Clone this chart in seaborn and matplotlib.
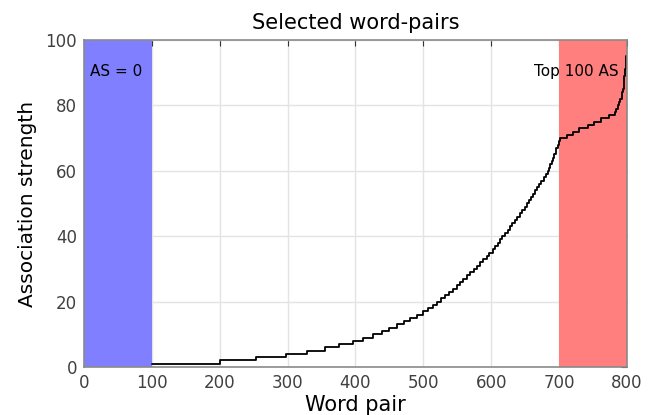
import numpy as np
import pandas as pd
import seaborn as sns
import matplotlib
matplotlib.use("Agg")
import matplotlib.pyplot as plt

# word-pair index where each association-strength level begins
step_start = [100, 200, 254, 298, 328, 355, 376, 396, 411, 426,
              439, 450, 461, 471, 481, 490, 499, 507, 514, 520,
              526, 532, 538, 543, 549, 554, 559, 564, 569, 574,
              579, 584, 588, 593, 597, 602, 606, 610, 613, 616,
              620, 624, 628, 631, 635, 638, 642, 645, 649, 652,
              655, 659, 662, 665, 668, 671, 674, 677, 680, 683,
              685, 687, 689, 691, 693, 695, 696, 698, 700,
              702, 712, 720, 730, 742, 752, 762, 774, 782, 784,
              786, 788, 790, 792, 793, 794, 795, 796, 797, 798, 799, 800]
step_level = [1, 2, 3, 4, 5, 6, 7, 8, 9, 10,
              11, 12, 13, 14, 15, 16, 17, 18, 19, 20,
              21, 22, 23, 24, 25, 26, 27, 28, 29, 30,
              31, 32, 33, 34, 35, 36, 37, 38, 39, 40,
              41, 42, 43, 44, 45, 46, 47, 48, 49, 50,
              51, 52, 53, 54, 55, 56, 57, 58, 59, 60,
              61, 62, 63, 64, 65, 66, 67, 68, 69,
              70, 71, 72, 73, 74, 75, 76, 77, 78, 79,
              80, 81, 82, 83, 84, 85, 87, 89, 91, 93, 95, 95]

zero_region = (0, 100)
top_region = (700, 800)

df = pd.DataFrame({"pair": step_start, "strength": step_level})

sns.set_style("white")
plt.rcParams["font.family"] = ["DejaVu Sans"]
plt.rcParams["text.color"] = "black"
plt.rcParams["axes.labelcolor"] = "black"

fig = plt.figure(figsize=(6.53, 4.15), dpi=100)
ax = fig.add_axes([0.1286, 0.1157, 0.8316, 0.7879])

ax.grid(True, color="#e3e3e3", linewidth=1.0)
ax.set_axisbelow(True)

ax.axvspan(*zero_region, color="#7f7fff", zorder=1.5, lw=0)
ax.axvspan(*top_region, color="#ff7f7f", zorder=1.5, lw=0)

sns.lineplot(data=df, x="pair", y="strength", ax=ax, color="black",
             linewidth=1.3, drawstyle="steps-post", zorder=3)

ax.set_xlim(0, 800)
ax.set_ylim(0, 100)
ax.set_xticks(range(0, 801, 100))
ax.set_yticks(range(0, 101, 20))
ax.tick_params(direction="in", length=4, width=0.8, top=True, right=True,
               labelsize=12, labelcolor="#404040", color="#333333", pad=5)
for s in ax.spines.values():
    s.set_color("#8a8a8a")
    s.set_linewidth(1.2)
    s.set_zorder(4)

ax.text(9, 90.5, "AS = 0", fontsize=11, ha="left", va="center", zorder=5)
ax.text(788, 90.5, "Top 100 AS", fontsize=11, ha="right", va="center", zorder=5)

ax.set_title("Selected word-pairs", fontsize=15, pad=8)
ax.set_xlabel("Word pair", fontsize=15, labelpad=2)
ax.set_ylabel("Association strength", fontsize=14.5, labelpad=6)

fig.savefig("out.png", dpi=100)
